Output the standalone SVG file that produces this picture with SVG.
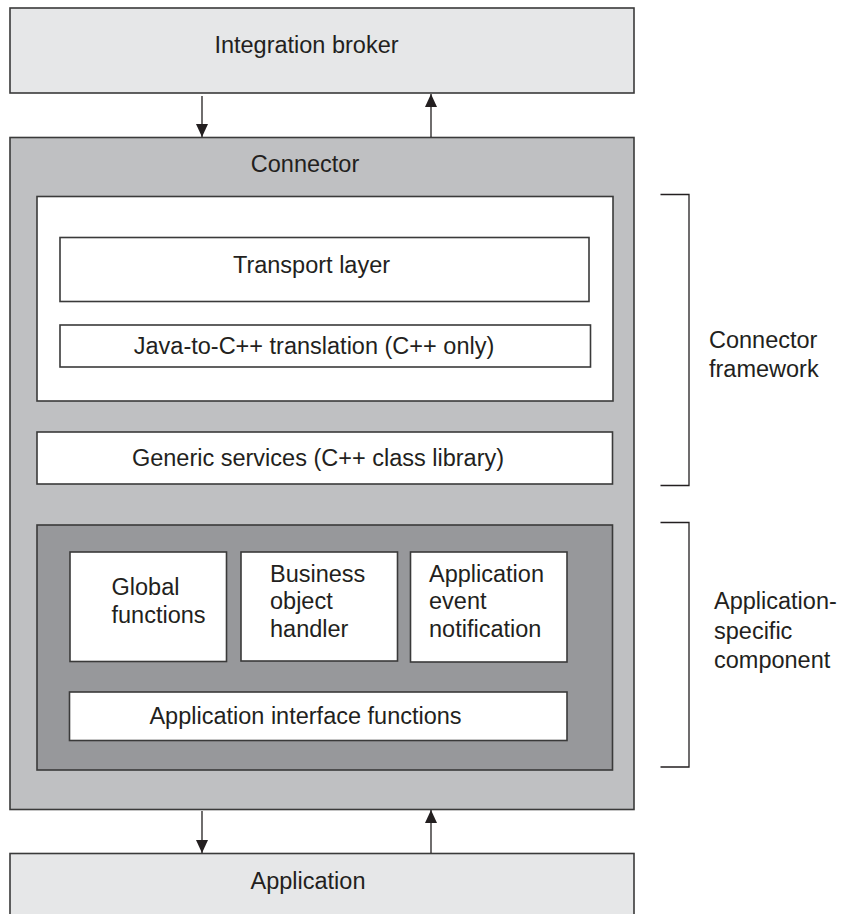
<svg xmlns="http://www.w3.org/2000/svg" width="842" height="914" viewBox="0 0 842 914">
<defs>
<marker id="ah" markerUnits="userSpaceOnUse" markerWidth="14" markerHeight="14" viewBox="0 0 14 14" refX="13" refY="7" orient="auto">
<path d="M0,1 L13,7 L0,13 Z" fill="#231f20"/>
</marker>
</defs>
<style>
text{font-family:"Liberation Sans",Arial,sans-serif;font-size:23.5px;fill:#231f20}
.c{text-anchor:middle}
.box{stroke:#3a3a3a;stroke-width:1.6}
.light{fill:#e6e7e8}
.mid{fill:#bfc0c2}
.dark{fill:#97989b}
.white{fill:#ffffff}
.conn{stroke:#231f20;stroke-width:1.3;fill:none}
.br{stroke:#231f20;stroke-width:1.3;fill:none}
</style>
<rect width="842" height="914" fill="#ffffff"/>
<g id="integration-broker">
<rect class="box light" x="10" y="8" width="624" height="85"/>
<text class="c" x="306.5" y="53">Integration broker</text>
</g>
<g id="connector">
<rect class="box mid" x="10" y="137.5" width="624" height="672"/>
<text class="c" x="305" y="172">Connector</text>
</g>
<g id="framework-box">
<rect class="box white" x="37" y="196.5" width="576" height="204.5"/>
</g>
<g id="transport-layer">
<rect class="box white" x="60" y="237.5" width="529" height="64"/>
<text class="c" x="311.5" y="273">Transport layer</text>
</g>
<g id="java-translation">
<rect class="box white" x="60" y="325" width="530.5" height="42"/>
<text class="c" x="314" y="354">Java-to-C++ translation (C++ only)</text>
</g>
<g id="generic-services">
<rect class="box white" x="37" y="432" width="575.5" height="52"/>
<text class="c" x="318" y="466">Generic services (C++ class library)</text>
</g>
<g id="app-specific-box">
<rect class="box dark" x="37" y="525" width="575.5" height="245"/>
</g>
<g id="global-functions">
<rect class="box white" x="70" y="552" width="156.5" height="109.5"/>
<text x="111.5" y="595">Global</text>
<text x="111.5" y="622.5">functions</text>
</g>
<g id="business-object-handler">
<rect class="box white" x="241" y="552" width="156.5" height="109"/>
<text x="270" y="581.5">Business</text>
<text x="270" y="609">object</text>
<text x="270" y="636.5">handler</text>
</g>
<g id="application-event-notification">
<rect class="box white" x="410.5" y="552" width="156.5" height="110"/>
<text x="429" y="581.5">Application</text>
<text x="429" y="609">event</text>
<text x="429" y="636.5">notification</text>
</g>
<g id="application-interface-functions">
<rect class="box white" x="69.5" y="692" width="497.5" height="48.5"/>
<text class="c" x="305.5" y="723.5">Application interface functions</text>
</g>
<g id="application">
<rect class="box light" x="10" y="853.5" width="624" height="80"/>
<text class="c" x="308" y="889">Application</text>
</g>
<g id="connector-framework-label">
<path class="br" d="M660.5,194.5 H689 V485.5 H660.5"/>
<text x="709" y="348">Connector</text>
<text x="709" y="377">framework</text>
</g>
<g id="app-specific-label">
<path class="br" d="M660.5,522.5 H689 V767 H660.5"/>
<text x="714" y="609">Application-</text>
<text x="714" y="639">specific</text>
<text x="714" y="668">component</text>
</g>
<g id="connectors">
<line class="conn" x1="202" y1="96" x2="202" y2="137" marker-end="url(#ah)"/>
<line class="conn" x1="431" y1="137" x2="431" y2="94" marker-end="url(#ah)"/>
<line class="conn" x1="202" y1="811" x2="202" y2="853" marker-end="url(#ah)"/>
<line class="conn" x1="431" y1="853" x2="431" y2="810" marker-end="url(#ah)"/>
</g>
</svg>
